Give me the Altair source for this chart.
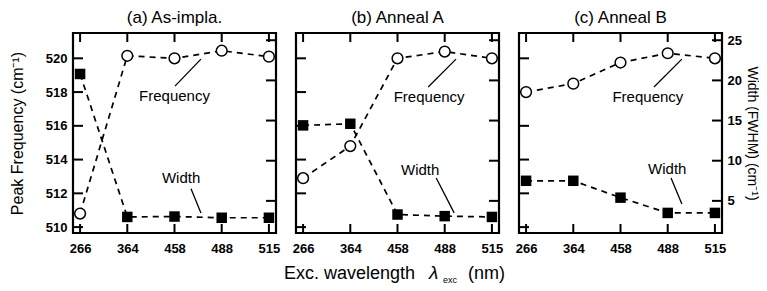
import json
import altair as alt
import pandas as pd

# ---------------- data ----------------
wavelengths = ["266", "364", "458", "488", "515"]
panel_titles = ["(a) As-impla.", "(b) Anneal A", "(c) Anneal B"]

freq_a = [510.8, 520.15, 520.0, 520.45, 520.1]
freq_b = [512.9, 514.8, 520.0, 520.4, 520.0]
freq_c = [518.0, 518.5, 519.75, 520.3, 520.0]
width_a = [20.8, 3.0, 3.05, 2.9, 2.9]
width_b = [14.4, 14.6, 3.3, 3.1, 3.0]
width_c = [7.5, 7.5, 5.4, 3.5, 3.5]

freq_ticks = [510, 512, 514, 516, 518, 520]
width_ticks = [5, 10, 15, 20, 25]
freq_domain = [509.65, 521.5]
width_domain = [1.0, 25.9]
x_domain = [-0.15, 4.15]

# annotation label anchors (x in category index units, y in data units)
freq_label_x = [2.0, 2.67, 2.58]
freq_label_y = [517.75, 517.7, 517.7]
width_label_x = [2.14, 2.48, 2.99]
width_label_y = [7.85, 8.85, 9.0]
# leader lines: x, y, x2, y2
freq_leaders = [(2.01, 518.35, 2.56, 519.95), (2.65, 518.3, 3.24, 519.95), (2.71, 518.3, 3.30, 519.95)]
width_leaders = [(2.35, 6.5, 2.56, 3.5), (2.82, 7.85, 3.20, 3.5), (3.07, 7.85, 3.30, 4.6)]

freq_title = "Peak Frequency (cm⁻¹)"
width_title = "Width (FWHM) (cm⁻¹)"
xtitle_parts = ["Exc. wavelength", "λ", "exc", "(nm)"]

freqs = [freq_a, freq_b, freq_c]
widths = [width_a, width_b, width_c]

# ---------------- layout ----------------
W, H = 203, 200
FONT = "Liberation Sans"
TICK = 10

label_expr = json.dumps(wavelengths) + "[datum.value]"


def xenc(field="idx"):
    return alt.X(
        f"{field}:Q",
        scale=alt.Scale(domain=x_domain, nice=False, zero=False),
        axis=alt.Axis(values=list(range(len(wavelengths))), labelExpr=label_expr,
                      title=None, ticks=False, domain=False, grid=False,
                      labelFontSize=13, labelFontWeight="bold", labelPadding=9,
                      labelFont=FONT, labelColor="black"),
    )


fscale = alt.Scale(domain=freq_domain, nice=False, zero=False)
wscale = alt.Scale(domain=width_domain, nice=False, zero=False)


def panel(i):
    df = pd.DataFrame({"idx": list(range(len(wavelengths))), "freq": freqs[i], "width": widths[i]})
    fticks = pd.DataFrame({"freq": freq_ticks})
    wticks = pd.DataFrame({"width": width_ticks})
    cats = pd.DataFrame({"idx": list(range(len(wavelengths)))})

    if i == 0:
        faxis = alt.Axis(orient="left", values=freq_ticks, title=freq_title, ticks=False, domain=False,
                         grid=False, labelFontSize=13, labelFontWeight="bold", labelPadding=6,
                         labelFont=FONT, titleFont=FONT, titleFontSize=16, titleFontWeight="normal",
                         titlePadding=20, labelColor="black", titleColor="black")
    else:
        faxis = None
    if i == 2:
        waxis = alt.Axis(orient="right", values=width_ticks, title=width_title, ticks=False, domain=False,
                         grid=False, labelFontSize=13, labelFontWeight="bold", labelPadding=5,
                         labelFont=FONT, titleFont=FONT, titleFontSize=14, titleFontWeight="normal",
                         titlePadding=3, labelColor="black", titleColor="black")
    else:
        waxis = None

    def fy(field="freq"):
        return alt.Y(f"{field}:Q", scale=fscale, axis=faxis)

    def wy(field="width"):
        return alt.Y(f"{field}:Q", scale=wscale, axis=waxis)

    dash = [6, 5]
    frame = alt.Chart(pd.DataFrame({"k": [0]})).mark_rect(fillOpacity=0, stroke="black", strokeWidth=2.2).encode(
        x=alt.value(0), x2=alt.value(W), y=alt.value(0), y2=alt.value(H))
    fline = alt.Chart(df).mark_line(color="black", strokeDash=dash, strokeWidth=1.7).encode(
        x=xenc(), y=fy())
    fpts = alt.Chart(df).mark_point(shape="circle", filled=True, fill="white", stroke="black",
                                    strokeWidth=1.5, size=115, opacity=1).encode(
        x=xenc(), y=fy())
    ftk = alt.Chart(fticks).mark_rule(color="black", strokeWidth=2).encode(
        y=fy(), x=alt.value(0), x2=alt.value(TICK))
    topt = alt.Chart(cats).mark_rule(color="black", strokeWidth=2).encode(
        x=xenc(), y=alt.value(0), y2=alt.value(TICK - 1))
    bott = alt.Chart(cats).mark_rule(color="black", strokeWidth=2).encode(
        x=xenc(), y=alt.value(H - TICK + 1), y2=alt.value(H))
    ftxt = alt.Chart(pd.DataFrame({"idx": [freq_label_x[i]], "freq": [freq_label_y[i]],
                                   "t": ["Frequency"]})).mark_text(
        font=FONT, fontSize=15, color="black").encode(
        x=xenc(), y=fy(), text="t:N")
    fl = freq_leaders[i]
    flead = alt.Chart(pd.DataFrame({"idx": [fl[0]], "freq": [fl[1]], "idx2": [fl[2]], "freq2": [fl[3]]})).mark_rule(
        color="black", strokeWidth=1.3).encode(
        x=xenc(), x2="idx2:Q", y=fy(), y2="freq2:Q")

    flayers = [ftk, fline, fpts, topt, bott, ftxt, flead, frame]
    if i == 1:
        flayers.append(alt.Chart(pd.DataFrame({"t": [xtitle_parts[0]]})).mark_text(
            font=FONT, fontSize=18, align="left", baseline="middle", color="black").encode(
            text="t:N", x=alt.value(-12), y=alt.value(H + 41)))
        flayers.append(alt.Chart(pd.DataFrame({"t": [xtitle_parts[1]]})).mark_text(
            font=FONT, fontSize=19, fontStyle="italic", align="left", baseline="middle",
            color="black").encode(text="t:N", x=alt.value(133), y=alt.value(H + 40)))
        flayers.append(alt.Chart(pd.DataFrame({"t": [xtitle_parts[2]]})).mark_text(
            font=FONT, fontSize=9, align="left", baseline="middle", color="black").encode(
            text="t:N", x=alt.value(147), y=alt.value(H + 47)))
        flayers.append(alt.Chart(pd.DataFrame({"t": [xtitle_parts[3]]})).mark_text(
            font=FONT, fontSize=18, align="left", baseline="middle", color="black").encode(
            text="t:N", x=alt.value(172), y=alt.value(H + 41)))

    wline = alt.Chart(df).mark_line(color="black", strokeDash=dash, strokeWidth=1.7).encode(
        x=xenc(), y=wy())
    wpts = alt.Chart(df).mark_point(shape="square", filled=True, color="black", size=110, opacity=1).encode(
        x=xenc(), y=wy())
    wtk = alt.Chart(wticks).mark_rule(color="black", strokeWidth=2).encode(
        y=wy(), x=alt.value(W - TICK), x2=alt.value(W))
    wtxt = alt.Chart(pd.DataFrame({"idx": [width_label_x[i]], "width": [width_label_y[i]],
                                   "t": ["Width"]})).mark_text(
        font=FONT, fontSize=15, color="black").encode(
        x=xenc(), y=wy(), text="t:N")
    wl = width_leaders[i]
    wlead = alt.Chart(pd.DataFrame({"idx": [wl[0]], "width": [wl[1]], "idx2": [wl[2]], "width2": [wl[3]]})).mark_rule(
        color="black", strokeWidth=1.3).encode(
        x=xenc(), x2="idx2:Q", y=wy(), y2="width2:Q")

    fgroup = alt.layer(*flayers)
    wgroup = alt.layer(wtk, wline, wpts, wtxt, wlead)
    return alt.layer(fgroup, wgroup).resolve_scale(y="independent").properties(
        width=W, height=H,
        title=alt.TitleParams(panel_titles[i], fontSize=17, fontWeight="normal", font=FONT,
                              color="black", offset=5, anchor="middle"),
    )


chart = alt.hconcat(panel(0), panel(1), panel(2), spacing=20, bounds="flush").properties(
    padding={"left": 0, "top": 0, "right": 0, "bottom": 0}
).configure_view(stroke="black", strokeWidth=2).configure(background="white")

chart.save("out.html", embed_options={"renderer": "svg", "actions": False})
